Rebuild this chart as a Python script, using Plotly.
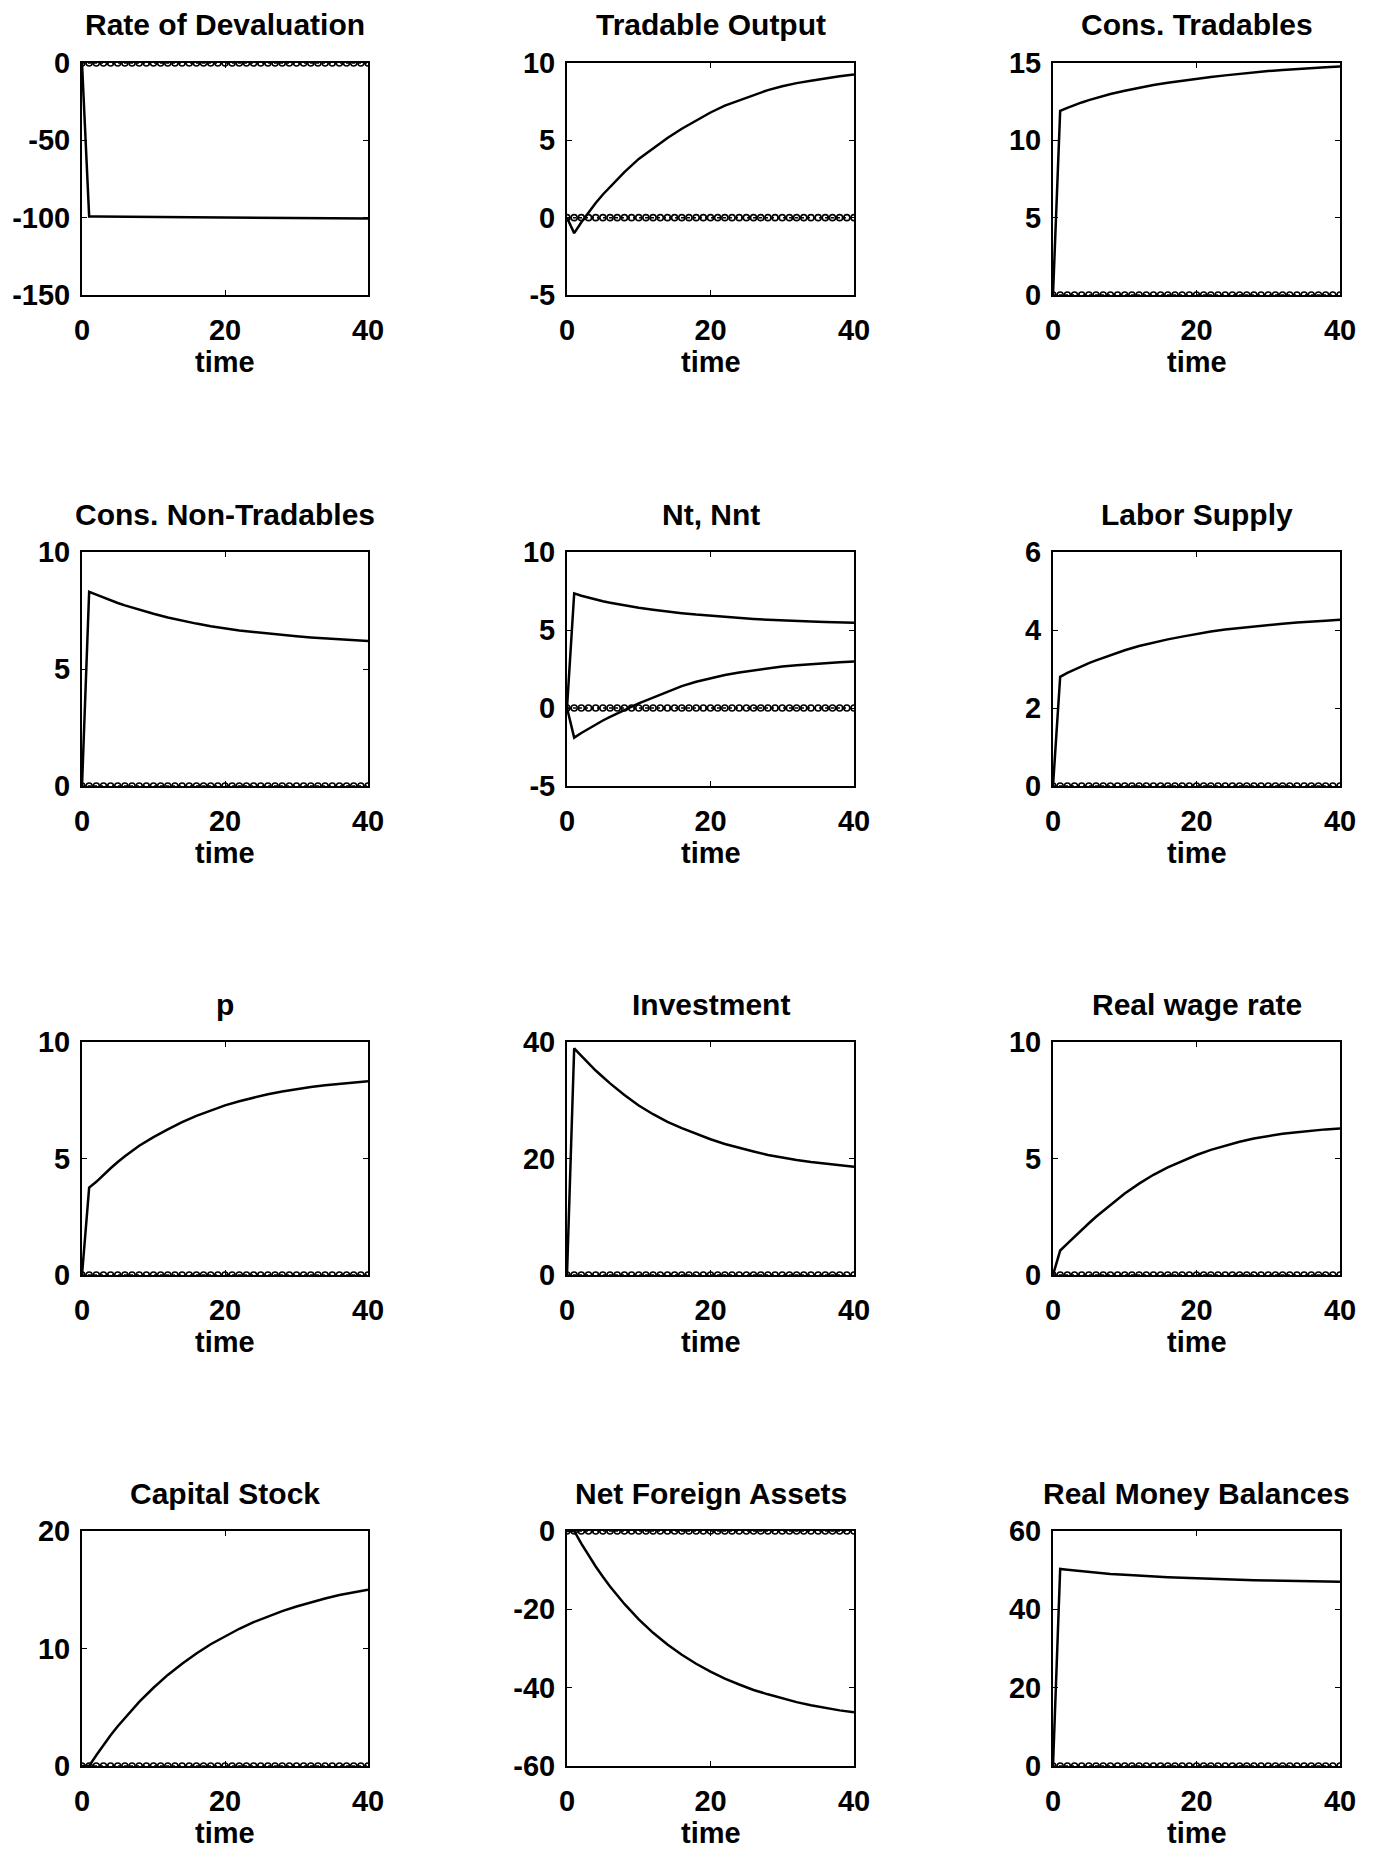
import plotly.graph_objects as go

# ---------------- data ----------------
t = [0, 1, 2, 3, 4, 5, 6, 8, 10, 12, 14, 16, 18, 20, 22, 24, 26, 28, 30, 32, 34, 36, 38, 40]
t_base = list(range(41))
baseline = [0] * 41

rate_devaluation = [0, -99.2, -99.25, -99.3, -99.35, -99.4, -99.45, -99.5, -99.55, -99.6, -99.65,
                    -99.7, -99.75, -99.8, -99.85, -99.9, -99.95, -100.0, -100.1, -100.2, -100.3,
                    -100.4, -100.5, -100.6]
tradable_output = [0, -1.0, -0.3, 0.35, 0.95, 1.5, 2.0, 2.95, 3.8, 4.5, 5.15, 5.75, 6.3, 6.8,
                   7.25, 7.6, 7.95, 8.25, 8.5, 8.7, 8.85, 9.0, 9.15, 9.25]
cons_tradables = [0, 11.9, 12.1, 12.3, 12.45, 12.6, 12.75, 13.0, 13.2, 13.4, 13.58, 13.72, 13.86,
                  13.98, 14.1, 14.2, 14.3, 14.4, 14.48, 14.55, 14.62, 14.68, 14.73, 14.78]
cons_nontradables = [0, 8.3, 8.18, 8.05, 7.93, 7.82, 7.72, 7.53, 7.36, 7.2, 7.06, 6.94, 6.83,
                     6.73, 6.65, 6.58, 6.51, 6.45, 6.4, 6.35, 6.31, 6.27, 6.23, 6.2]
nt = [0, 7.35, 7.2, 7.07, 6.95, 6.84, 6.75, 6.58, 6.43, 6.3, 6.18, 6.08, 5.99, 5.91, 5.83, 5.77,
      5.71, 5.66, 5.61, 5.57, 5.54, 5.51, 5.49, 5.47]
nnt = [0, -1.9, -1.6, -1.32, -1.05, -0.8, -0.57, -0.12, 0.3, 0.67, 1.05, 1.4, 1.68, 1.92, 2.12,
       2.28, 2.42, 2.55, 2.66, 2.74, 2.82, 2.88, 2.94, 2.98]
labor_supply = [0, 2.8, 2.9, 2.99, 3.07, 3.15, 3.22, 3.36, 3.48, 3.59, 3.68, 3.76, 3.83, 3.9,
                3.96, 4.01, 4.05, 4.09, 4.13, 4.16, 4.19, 4.22, 4.24, 4.26]
p_price = [0, 3.75, 4.0, 4.3, 4.58, 4.85, 5.1, 5.55, 5.92, 6.25, 6.56, 6.83, 7.07, 7.28, 7.46,
           7.62, 7.76, 7.88, 7.98, 8.07, 8.14, 8.21, 8.27, 8.32]
investment = [0, 38.9, 37.6, 36.3, 35.1, 34.0, 32.9, 30.9, 29.1, 27.6, 26.3, 25.2, 24.2, 23.3,
              22.5, 21.8, 21.2, 20.6, 20.15, 19.75, 19.4, 19.1, 18.85, 18.6]
real_wage = [0, 1.05, 1.35, 1.65, 1.95, 2.22, 2.5, 3.0, 3.5, 3.92, 4.3, 4.62, 4.9, 5.15, 5.37,
             5.56, 5.72, 5.86, 5.97, 6.06, 6.13, 6.2, 6.25, 6.29]
capital_stock = [0, 0, 0.92, 1.78, 2.61, 3.38, 4.1, 5.45, 6.66, 7.75, 8.71, 9.58, 10.36, 11.05,
                 11.68, 12.24, 12.74, 13.18, 13.58, 13.94, 14.26, 14.55, 14.8, 15.0]
net_foreign_assets = [0, 0, -3.22, -6.25, -9.06, -11.7, -14.17, -18.63, -22.56, -26.0, -29.0,
                      -31.6, -33.9, -35.9, -37.7, -39.2, -40.6, -41.7, -42.7, -43.7, -44.5,
                      -45.2, -45.8, -46.3]
real_money = [0, 50.3, 50.1, 49.9, 49.7, 49.5, 49.35, 49.05, 48.8, 48.55, 48.35, 48.2, 48.05,
              47.9, 47.78, 47.65, 47.55, 47.45, 47.35, 47.27, 47.2, 47.14, 47.08, 47.02]

titles = ["Rate of Devaluation", "Tradable Output", "Cons. Tradables",
          "Cons. Non-Tradables", "Nt, Nnt", "Labor Supply",
          "p", "Investment", "Real wage rate",
          "Capital Stock", "Net Foreign Assets", "Real Money Balances"]
series = [[rate_devaluation], [tradable_output], [cons_tradables],
          [cons_nontradables], [nt, nnt], [labor_supply],
          [p_price], [investment], [real_wage],
          [capital_stock], [net_foreign_assets], [real_money]]
y_ranges = [(-150, 0), (-5, 10), (0, 15),
            (0, 10), (-5, 10), (0, 6),
            (0, 10), (0, 40), (0, 10),
            (0, 20), (-60, 0), (0, 60)]
y_ticks = [[-150, -100, -50, 0], [-5, 0, 5, 10], [0, 5, 10, 15],
           [0, 5, 10], [-5, 0, 5, 10], [0, 2, 4, 6],
           [0, 5, 10], [0, 20, 40], [0, 5, 10],
           [0, 10, 20], [-60, -40, -20, 0], [0, 20, 40, 60]]
x_ticks = [0, 20, 40]
x_label = "time"

# ---------------- layout geometry (page pixels) ----------------
W, H = 1375, 1852
cols_px = [(82, 368), (567, 854), (1053, 1340)]
rows_px = [(63, 295), (552, 786), (1042, 1275), (1531, 1766)]
FONT = "Liberation Sans"
FS = 29
FS_TITLE = 30


def fx(px):
    return px / W


def fy(py):
    return 1 - py / H


def lbl(v):
    return str(v).replace("\u2212", "-")


fig = go.Figure()
annotations = []
layout_axes = {}

for i in range(12):
    r, c = divmod(i, 3)
    x0, x1 = cols_px[c]
    top, bot = rows_px[r]
    n = i + 1
    xname = "x" if n == 1 else f"x{n}"
    yname = "y" if n == 1 else f"y{n}"
    tickfont = dict(family=FONT, size=FS, color="black", weight="bold")
    common = dict(ticks="inside", ticklen=5, tickwidth=1, tickcolor="black",
                  showline=True, linecolor="black", linewidth=2, mirror="ticks",
                  showgrid=False, zeroline=False, tickfont=tickfont, fixedrange=True,
                  automargin=False)
    layout_axes["xaxis" if n == 1 else f"xaxis{n}"] = dict(
        domain=[fx(x0), fx(x1)], anchor=yname, range=[0, 40],
        tickvals=x_ticks, ticktext=[lbl(v) for v in x_ticks],
        ticklabelstandoff=8, **common)
    layout_axes["yaxis" if n == 1 else f"yaxis{n}"] = dict(
        domain=[fy(bot), fy(top)], anchor=xname, range=list(y_ranges[i]),
        tickvals=y_ticks[i], ticktext=[lbl(v) for v in y_ticks[i]],
        ticklabelstandoff=4, **common)

    # dotted zero baseline with small circle markers
    fig.add_trace(go.Scatter(
        x=t_base, y=baseline, xaxis=xname, yaxis=yname, mode="lines+markers",
        line=dict(color="black", width=1.5, dash="dot"),
        marker=dict(symbol="circle-open", size=6, color="black", line=dict(width=1.6)),
        showlegend=False, hoverinfo="skip"))
    for s in series[i]:
        fig.add_trace(go.Scatter(
            x=t, y=s, xaxis=xname, yaxis=yname, mode="lines",
            line=dict(color="black", width=2.5), showlegend=False))

    xc = fx((x0 + x1) / 2)
    annotations.append(dict(
        text=titles[i], x=xc, y=fy(top - 38), xref="paper", yref="paper",
        xanchor="center", yanchor="middle", showarrow=False,
        font=dict(family=FONT, size=FS_TITLE, color="black", weight="bold")))
    annotations.append(dict(
        text=x_label, x=xc, y=fy(bot + 67), xref="paper", yref="paper",
        xanchor="center", yanchor="middle", showarrow=False,
        font=dict(family=FONT, size=FS, color="black", weight="bold")))

fig.update_layout(
    width=W, height=H, margin=dict(l=0, r=0, t=0, b=0, pad=0, autoexpand=False),
    paper_bgcolor="white", plot_bgcolor="white",
    annotations=annotations, showlegend=False, **layout_axes)

fig.write_html("out.html", config={"displayModeBar": False},
               post_script="document.body.style.margin='0';")
